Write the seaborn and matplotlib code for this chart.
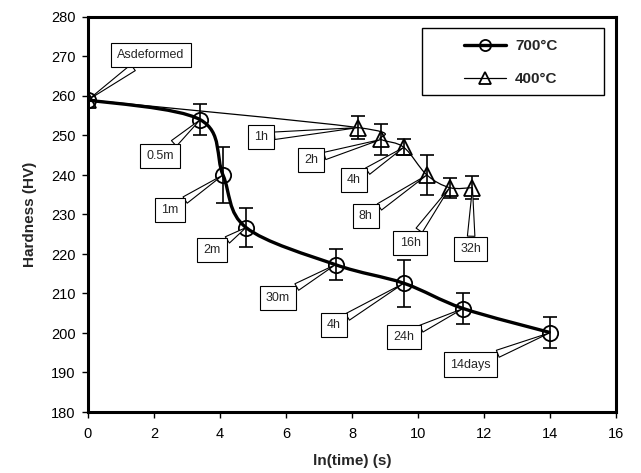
import numpy as np
import matplotlib
matplotlib.use("Agg")
import matplotlib.pyplot as plt
import seaborn as sns
from matplotlib.path import Path
from matplotlib.patches import PathPatch, Rectangle
from matplotlib.lines import Line2D

# ---- data ----
x700 = [0.0, 3.40, 4.09, 4.79, 7.50, 9.57, 11.37, 14.01]
y700 = [259.0, 254.0, 240.0, 226.7, 217.3, 212.6, 206.2, 200.1]
e700 = [0, 4, 7, 5, 4, 6, 4, 4]
lab700 = ["Asdeformed", "0.5m", "1m", "2m", "30m", "4h", "24h", "14days"]
txt700 = [(1.9, 270.4), (2.18, 244.8), (2.48, 231.1), (3.76, 221.0),
          (5.76, 208.9), (7.45, 202.0), (9.58, 199.0), (11.6, 192.0)]

x400 = [0.0, 8.19, 8.88, 9.57, 10.27, 10.96, 11.65]
y400 = [259.0, 252.0, 249.0, 247.0, 240.0, 236.8, 236.8]
e400 = [0, 3, 4, 2, 5, 2.5, 3]
lab400 = [None, "1h", "2h", "4h", "8h", "16h", "32h"]
txt400 = [None, (5.24, 249.6), (6.76, 243.8), (8.06, 238.7), (8.42, 229.6),
          (9.76, 222.8), (11.6, 221.3)]

series_names = ["700°C", "400°C"]
xticks = list(range(0, 17, 2))
yticks = list(range(180, 281, 10))

sns.set_style("ticks")
plt.rcParams["font.family"] = ["Liberation Sans", "DejaVu Sans"]

fig = plt.figure(figsize=(6.41, 4.73), dpi=100)
ax = fig.add_axes([88 / 641, 1 - 412 / 473, 528 / 641, 395 / 473])


def smooth_path(xs, ys):
    pts = np.column_stack([xs, ys])
    n = len(pts)
    verts = [pts[0]]
    codes = [Path.MOVETO]
    for i in range(n - 1):
        p0 = pts[i - 1] if i > 0 else pts[i]
        p1 = pts[i]
        p2 = pts[i + 1]
        p3 = pts[i + 2] if i + 2 < n else pts[i + 1]
        c1 = p1 + (p2 - p0) / 6.0
        c2 = p2 - (p3 - p1) / 6.0
        verts += [c1, c2, p2]
        codes += [Path.CURVE4] * 3
    return Path(verts, codes)


ax.add_patch(PathPatch(smooth_path(x700, y700), fill=False, lw=2.4,
                       ec="black", zorder=2))
ax.add_patch(PathPatch(smooth_path(x400, y400), fill=False, lw=0.9,
                       ec="black", zorder=2))

ax.errorbar(x700, y700, yerr=e700, fmt="none", ecolor="black",
            elinewidth=1.2, capsize=5, capthick=1.2, zorder=3)
ax.errorbar(x400, y400, yerr=e400, fmt="none", ecolor="black",
            elinewidth=1.2, capsize=5, capthick=1.2, zorder=3)

sns.lineplot(x=x700, y=y700, ax=ax, linestyle="none", marker="o",
             markersize=11, markerfacecolor="none", markeredgecolor="black",
             markeredgewidth=1.3, color="black", zorder=4)
sns.lineplot(x=x400, y=y400, ax=ax, linestyle="none", marker="^",
             markersize=11, markerfacecolor="none", markeredgecolor="black",
             markeredgewidth=1.3, color="black", zorder=4)


def callout(label, xy, xytext):
    ax.annotate(label, xy=xy, xytext=xytext, textcoords="data",
                ha="center", va="center", fontsize=9, zorder=5,
                bbox=dict(boxstyle="square,pad=0.5", fc="white",
                          ec="black", lw=0.8),
                arrowprops=dict(arrowstyle="wedge,tail_width=0.6",
                                fc="white", ec="black", lw=0.8,
                                shrinkA=0, shrinkB=0))


for xi, yi, lab, t in zip(x700, y700, lab700, txt700):
    callout(lab, (xi, yi), t)
for xi, yi, lab, t in zip(x400, y400, lab400, txt400):
    if lab is not None:
        callout(lab, (xi, yi), t)

ax.set_xlim(0, 16)
ax.set_ylim(180, 280)
ax.set_xticks(xticks)
ax.set_yticks(yticks)
ax.tick_params(direction="out", length=4, width=1, labelsize=10.5,
               colors="black")
ax.tick_params(axis="x", pad=7)
ax.tick_params(axis="y", pad=5)
for s in ax.spines.values():
    s.set_linewidth(2.2)
    s.set_color("black")
    s.set_visible(True)

ax.set_xlabel("ln(time) (s)", fontsize=11, fontweight="bold", labelpad=9)
ax.set_ylabel("Hardness (HV)", fontsize=11, fontweight="bold", labelpad=10)

# legend frame (wide Excel-style box)
ax.add_patch(Rectangle((334 / 528, 317 / 395), 182 / 528, 67 / 395,
                       transform=ax.transAxes, fc="white", ec="black",
                       lw=1.0, zorder=6))
handles = [
    Line2D([], [], color="black", lw=2.4, marker="o", markersize=8,
           markerfacecolor="none", markeredgewidth=1.3),
    Line2D([], [], color="black", lw=0.9, marker="^", markersize=8,
           markerfacecolor="none", markeredgewidth=1.3),
]
leg = ax.legend(handles, series_names, loc="center",
                bbox_to_anchor=(0.801, 0.885), borderaxespad=0,
                frameon=False, handlelength=2.7, labelspacing=1.25,
                borderpad=0.2, handletextpad=0.6,
                prop=dict(weight="bold", size=11))
leg.set_zorder(7)

fig.savefig("out.png", dpi=100)
